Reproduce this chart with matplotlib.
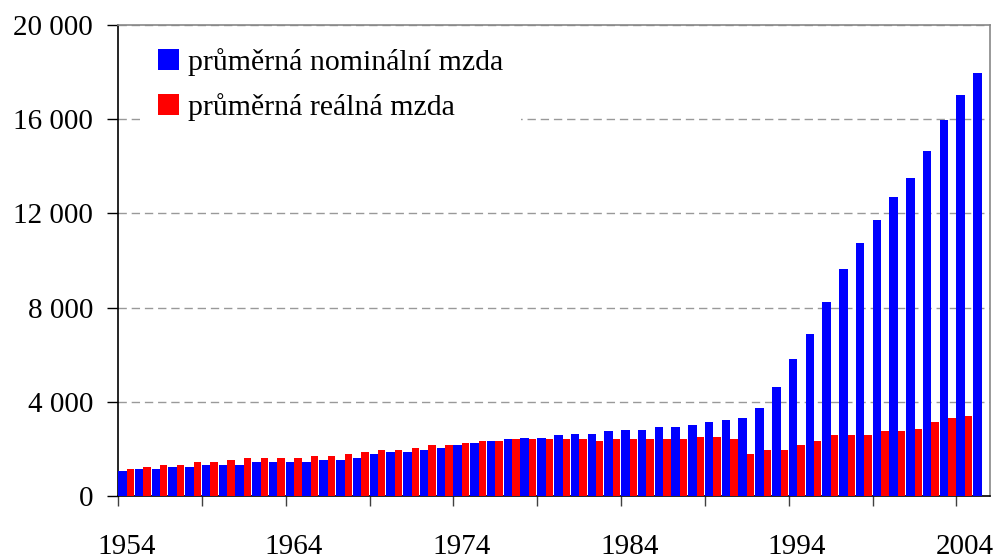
import matplotlib
matplotlib.use("Agg")
import matplotlib.pyplot as plt
import numpy as np

years = list(range(1954, 2006))
nominal = [1.05, 1.14, 1.14, 1.22, 1.22, 1.31, 1.31, 1.31, 1.43, 1.43,
           1.43, 1.43, 1.52, 1.52, 1.60, 1.77, 1.85, 1.85, 1.94, 2.02,
           2.15, 2.23, 2.32, 2.40, 2.48, 2.48, 2.57, 2.65, 2.65, 2.74,
           2.82, 2.82, 2.91, 2.91, 3.00, 3.13, 3.22, 3.31, 3.73, 4.61,
           5.81, 6.87, 8.24, 9.64, 10.74, 11.73, 12.70, 13.52, 14.66, 15.95,
           17.01, 17.98]
real = [1.14, 1.22, 1.31, 1.31, 1.43, 1.43, 1.52, 1.60, 1.60, 1.60,
        1.60, 1.68, 1.68, 1.77, 1.85, 1.94, 1.94, 2.02, 2.15, 2.15,
        2.23, 2.32, 2.32, 2.40, 2.40, 2.40, 2.40, 2.40, 2.32, 2.40,
        2.40, 2.40, 2.41, 2.41, 2.49, 2.49, 2.41, 1.78, 1.94, 1.94,
        2.15, 2.32, 2.58, 2.58, 2.58, 2.75, 2.75, 2.84, 3.13, 3.31,
        3.38, np.nan]
nominal = [v * 1000 for v in nominal]
real = [v * 1000 for v in real]
label_years = [1954, 1964, 1974, 1984, 1994, 2004]
yticks = [0, 4000, 8000, 12000, 16000, 20000]

plt.rcParams['font.family'] = ['Liberation Serif', 'DejaVu Serif']

fig = plt.figure(figsize=(9.96, 5.59), dpi=100)
ax = fig.add_axes([118/996, 1-496/559, (990-118)/996, (496-25)/559])

x = np.arange(len(years))
ax.bar(x - 0.245, nominal, width=0.51, color='#0000ff', label='průměrná nominální mzda', zorder=3)
ax.bar(x + 0.23, real, width=0.44, color='#ff0000', label='průměrná reálná mzda', zorder=3)

ax.set_xlim(-0.5, len(years) - 0.5)
ax.set_ylim(0, 20000)

# y axis
ax.set_yticks(yticks)
ax.set_yticklabels([f"{v:,}".replace(",", " ") for v in yticks], fontsize=21)
ax.tick_params(axis='y', direction='out', length=8, width=1, pad=10, colors='black')

# x axis: tick marks at category boundaries every 5, labels at category centers
ax.set_xticks(np.arange(-0.5, len(years), 5))
ax.set_xticklabels([])
ax.tick_params(axis='x', which='major', direction='out', length=7.5, width=1, color='#404040')
ax.set_xticks([years.index(y) for y in label_years], minor=True)
ax.set_xticklabels([str(y) for y in label_years], minor=True, fontsize=21)
ax.tick_params(axis='x', which='minor', length=0, pad=27)

ax.yaxis.grid(True, linestyle=(0, (6, 3.5)), color='#999999', linewidth=1)
ax.set_axisbelow(True)

for s in ['top', 'right']:
    ax.spines[s].set_color('#888888')
    ax.spines[s].set_linewidth(1.2)
for s in ['left', 'bottom']:
    ax.spines[s].set_color('black')
    ax.spines[s].set_linewidth(1.2)

leg = ax.legend(loc='upper left', bbox_to_anchor=(0.025, 0.989), fontsize=21.5,
                frameon=True, fancybox=False, handlelength=0.7, handleheight=0.7,
                handletextpad=0.3, labelspacing=0.58, borderpad=0.6, borderaxespad=0)
leg.get_frame().set_facecolor('white')
leg.get_frame().set_edgecolor('none')
leg.get_frame().set_alpha(1)

fig.savefig('out.png', dpi=100)
